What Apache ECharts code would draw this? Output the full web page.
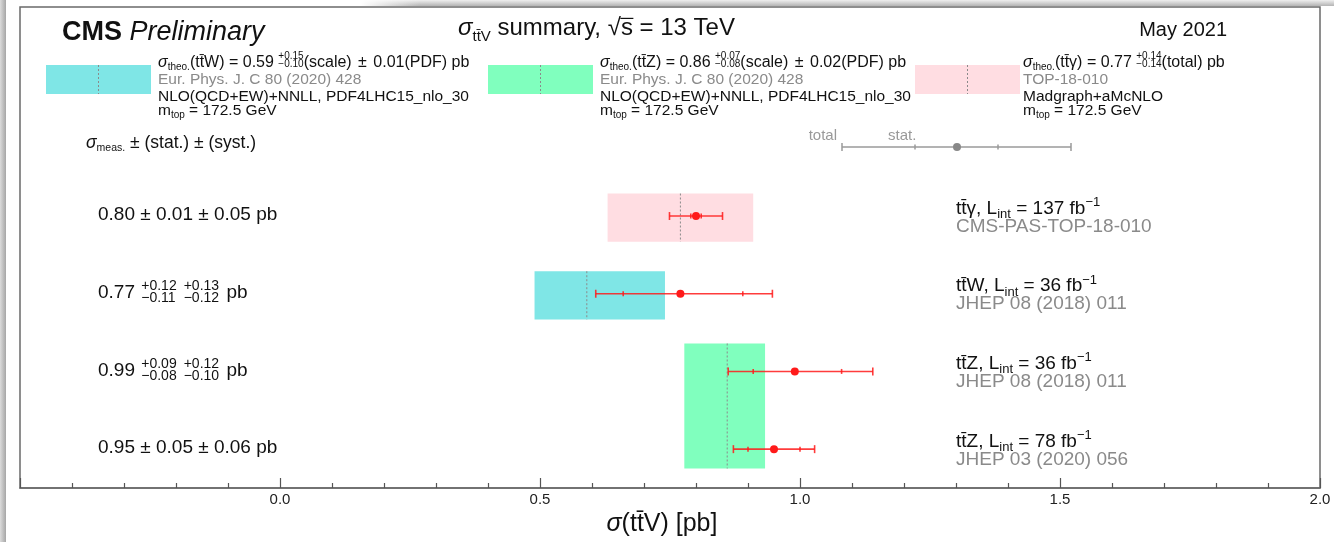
<!DOCTYPE html>
<html>
<head>
<meta charset="utf-8">
<title>σ ttV summary</title>
<script src="https://cdn.jsdelivr.net/npm/echarts@6/dist/echarts.min.js"></script>
<style>
  html, body { margin: 0; padding: 0; background: #ffffff; }
  #chart { width: 1334px; height: 542px; }
</style>
</head>
<body>
<div id="chart"></div>
<script>
// ---- measurements, listed top to bottom ----
const processes = ['tt\u0304γ', 'tt\u0304W', 'tt\u0304Z', 'tt\u0304Z'];
const lumiFb = [137, 36, 36, 78];
const references = ['CMS-PAS-TOP-18-010', 'JHEP 08 (2018) 011', 'JHEP 08 (2018) 011', 'JHEP 03 (2020) 056'];
const measured = [0.80, 0.77, 0.99, 0.95];
const statUp = [0.01, 0.12, 0.09, 0.05];
const statDown = [0.01, 0.11, 0.08, 0.05];
const systUp = [0.05, 0.13, 0.12, 0.06];
const systDown = [0.05, 0.12, 0.10, 0.06];

// ---- theory predictions ----
const theoryProcess = ['tt\u0304W', 'tt\u0304Z', 'tt\u0304γ'];
const theoryCentral = [0.59, 0.86, 0.77];
const theoryUp = [0.15, 0.07, 0.14];
const theoryDown = [0.10, 0.08, 0.14];
const theoryPdf = [0.01, 0.02, null];
const theoryUncName = ['scale', 'scale', 'total'];
const theoryRef = ['Eur. Phys. J. C 80 (2020) 428', 'Eur. Phys. J. C 80 (2020) 428', 'TOP-18-010'];
const theoryCalc = ['NLO(QCD+EW)+NNLL, PDF4LHC15_nlo_30', 'NLO(QCD+EW)+NNLL, PDF4LHC15_nlo_30', 'Madgraph+aMcNLO'];
const theoryMtop = [172.5, 172.5, 172.5];
const theoryRows = [[1], [2, 3], [0]];   // measurement rows each band covers

// ---- axis ----
const xMin = -0.5, xMax = 2.0, xStep = 0.5;
const tickLabels = ['0.0', '0.5', '1.0', '1.5', '2.0'];

// ---- styles ----
const FAMILY = '"Liberation Sans", Arial, Helvetica, sans-serif';
const INK = '#111111';
const GREY_TEXT = '#8a8a8a';
const bandColors = ['#7fe6e6', '#80ffbe', '#ffdde2'];
const RED = '#ff1a1a';

const nRows = processes.length;
const rowY = i => nRows - i - 0.5;
const f2 = v => v.toFixed(2);
const minus = v => '\u2212' + f2(v);

// text helpers: runs of text laid out left to right on a common baseline
const mctx = document.createElement('canvas').getContext('2d');
function fontOf(p) { return (p.it ? 'italic ' : '') + (p.b ? 'bold ' : '') + p.s + 'px ' + FAMILY; }
function measure(text, p) { mctx.font = fontOf(p); return mctx.measureText(text).width; }
function textEl(x, base, text, p) {
  return {
    type: 'text', silent: true,
    style: {
      x: x, y: base - 0.35 * p.s, text: text,
      fontSize: p.s, fontFamily: FAMILY,
      fontStyle: p.it ? 'italic' : 'normal', fontWeight: p.b ? 'bold' : 'normal',
      fill: p.c || INK, align: p.align || 'left', verticalAlign: 'middle'
    }
  };
}
function runLine(x, base, runs) {
  const els = [], xs = [];
  let cx = x;
  runs.forEach(r => {
    xs.push(cx);
    if (r.up !== undefined) {
      els.push(textEl(cx, base + r.upDy, r.up, r));
      els.push(textEl(cx, base + r.dnDy, r.dn, r));
      cx += Math.max(measure(r.up, r), measure(r.dn, r)) + (r.gap || 0);
    } else {
      els.push(textEl(cx, base + (r.dy || 0), r.t, r));
      cx += measure(r.t, r) + (r.gap || 0);
    }
  });
  xs.push(cx);
  return { els, xs };
}

// ---- header ----
const header = [];
header.push(...runLine(62, 42, [{ t: 'CMS ', s: 27, b: true }, { t: 'Preliminary', s: 27, it: true }]).els);
const title = runLine(458, 37, [
  { t: 'σ', s: 24, it: true }, { t: 'tt\u0304V', s: 15, dy: 5 },
  { t: ' summary, √', s: 24 }, { t: 's', s: 24 }, { t: ' = 13 TeV', s: 24 }
]);
header.push(...title.els);
header.push({ type: 'line', silent: true,
  shape: { x1: title.xs[3] - 0.5, y1: 37 - 18.6, x2: title.xs[4] + 0.5, y2: 37 - 18.6 },
  style: { stroke: INK, lineWidth: 1.2 } });
header.push(textEl(1227, 37, 'May 2021', { s: 20, align: 'right' }));

// theory key: swatch + four text lines per prediction
const keySwatchX = [46, 488, 915];
const keyTextX = [158, 600, 1023];
theoryCentral.forEach((c, k) => {
  const sx = keySwatchX[k];
  header.push({ type: 'rect', silent: true, shape: { x: sx, y: 65, width: 105, height: 29 }, style: { fill: bandColors[k] } });
  header.push({ type: 'line', silent: true, shape: { x1: sx + 52.5, y1: 65, x2: sx + 52.5, y2: 94 },
    style: { stroke: '#8a8a8a', lineWidth: 1, lineDash: [2, 2] } });
  const tx = keyTextX[k];
  const line1 = [
    { t: 'σ', s: 16, it: true }, { t: 'theo.', s: 10, dy: 3 },
    { t: '(' + theoryProcess[k] + ') = ' + f2(c) + ' ', s: 16 },
    { up: '+' + f2(theoryUp[k]), dn: minus(theoryDown[k]), s: 10, upDy: -8, dnDy: 0 }
  ];
  if (theoryPdf[k] !== null) {
    line1.push({ t: '(' + theoryUncName[k] + ') ', s: 16, gap: 2 }, { t: '± ', s: 16, gap: 2 },
      { t: f2(theoryPdf[k]) + '(PDF) pb', s: 16 });
  } else {
    line1.push({ t: '(' + theoryUncName[k] + ') pb', s: 16 });
  }
  header.push(...runLine(tx, 68, line1).els);
  header.push(textEl(tx, 85, theoryRef[k], { s: 15.5, c: GREY_TEXT }));
  header.push(textEl(tx, 102, theoryCalc[k], { s: 15.5 }));
  header.push(...runLine(tx, 116, [
    { t: 'm', s: 15.5 }, { t: 'top', s: 10, dy: 3 }, { t: ' = ' + theoryMtop[k].toFixed(1) + ' GeV', s: 15.5 }
  ]).els);
});

// measurement key
header.push(...runLine(86, 149, [
  { t: 'σ', s: 17.5, it: true }, { t: 'meas.', s: 10.5, dy: 3 }, { t: ' ± (stat.) ± (syst.)', s: 17.5 }
]).els);
header.push(textEl(837, 141, 'total', { s: 15, c: '#999999', align: 'right' }));
header.push(textEl(888, 141, 'stat.', { s: 15, c: '#999999' }));
const keyLine = { stroke: '#9a9a9a', lineWidth: 1.5 };
header.push({ type: 'line', silent: true, shape: { x1: 842, y1: 147, x2: 1071, y2: 147 }, style: keyLine });
[842, 1071].forEach(x => header.push({ type: 'line', silent: true, shape: { x1: x, y1: 143, x2: x, y2: 151 }, style: keyLine }));
[915, 998].forEach(x => header.push({ type: 'line', silent: true, shape: { x1: x, y1: 144.5, x2: x, y2: 149.5 }, style: keyLine }));
header.push({ type: 'circle', silent: true, shape: { cx: 957, cy: 147, r: 4 }, style: { fill: '#888888' } });

// window edge shading
header.push({ type: 'rect', silent: true, z: -1, shape: { x: 0, y: 0, width: 6, height: 542 },
  style: { fill: new echarts.graphic.LinearGradient(0, 0, 1, 0, [{ offset: 0, color: '#dcdcdc' }, { offset: 1, color: '#a6a6a6' }]) } });
header.push({ type: 'rect', silent: true, z: -1, shape: { x: 360, y: 0, width: 974, height: 6 },
  style: { fill: new echarts.graphic.LinearGradient(0, 0, 0, 1, [{ offset: 0, color: '#efefef' }, { offset: 1, color: '#b4b4b4' }]) } });
header.push({ type: 'rect', silent: true, z: -1, shape: { x: 360, y: 0, width: 60, height: 6 },
  style: { fill: new echarts.graphic.LinearGradient(0, 0, 1, 0, [{ offset: 0, color: 'rgba(255,255,255,1)' }, { offset: 1, color: 'rgba(255,255,255,0)' }]) } });

// ---- series data ----
// band height: a single row gets a fixed half-height, a band shared by rows spans them all
const bandData = theoryCentral.map((c, k) => {
  const lo = c - Math.hypot(theoryDown[k], theoryPdf[k] || 0);
  const hi = c + Math.hypot(theoryUp[k], theoryPdf[k] || 0);
  const ys = theoryRows[k].map(rowY);
  const extra = ys.length - 1;
  return [lo, hi, c, Math.max(...ys) + 0.29 + 0.07 * extra, Math.min(...ys) - 0.33 + 0.08 * extra, k];
});
const errData = measured.map((m, i) => [
  m,
  m - Math.hypot(statDown[i], systDown[i]), m + Math.hypot(statUp[i], systUp[i]),
  m - statDown[i], m + statUp[i], rowY(i)
]);
const pointData = measured.map((m, i) => [m, rowY(i)]);
const labelData = measured.map((m, i) => [m, rowY(i), i]);

function leftLabelRuns(i) {
  const sym = statUp[i] === statDown[i] && systUp[i] === systDown[i];
  if (sym) return [{ t: f2(measured[i]) + ' ± ' + f2(statUp[i]) + ' ± ' + f2(systUp[i]) + ' pb', s: 19 }];
  return [
    { t: f2(measured[i]) + ' ', s: 19, gap: 1 },
    { up: '+' + f2(statUp[i]), dn: minus(statDown[i]), s: 14, upDy: -8, dnDy: 4, gap: 7 },
    { up: '+' + f2(systUp[i]), dn: minus(systDown[i]), s: 14, upDy: -8, dnDy: 4, gap: 2 },
    { t: ' pb', s: 19 }
  ];
}

const chart = echarts.init(document.getElementById('chart'), null, { renderer: 'canvas' });
chart.setOption({
  animation: false,
  backgroundColor: '#ffffff',
  grid: { left: 20, right: 14, top: 7, bottom: 54, show: true, borderColor: '#6a6a6a', borderWidth: 1.5, backgroundColor: 'transparent' },
  xAxis: {
    type: 'value', min: xMin, max: xMax, interval: xStep,
    axisLine: { show: true, lineStyle: { color: '#6a6a6a', width: 1.5 } },
    axisTick: { show: true, inside: true, length: 10, lineStyle: { color: '#555555', width: 1.2 } },
    minorTick: { show: true, splitNumber: 5, length: 5, lineStyle: { color: '#555555', width: 1.2 } },
    splitLine: { show: false },
    axisLabel: {
      margin: 4, fontSize: 15, fontFamily: FAMILY, color: '#222222',
      formatter: v => { const k = Math.round(v / xStep); return k >= 0 ? tickLabels[k] : ''; }
    },
    name: '{s|σ}(tt\u0304V) [pb]', nameLocation: 'middle', nameGap: 20,
    nameTextStyle: { fontSize: 25, fontFamily: FAMILY, color: INK, padding: [0, 16, 0, 0],
      rich: { s: { fontSize: 25, fontFamily: FAMILY, fontStyle: 'italic', color: INK } } }
  },
  yAxis: { type: 'value', min: 0, max: 6.19, show: false },
  graphic: { elements: header },
  series: [
    {
      type: 'custom', name: 'theory', z: 1, silent: true,
      encode: { x: [0, 1, 2], y: [3, 4] },
      data: bandData,
      renderItem: (params, api) => {
        const p1 = api.coord([api.value(0), api.value(3)]);
        const p2 = api.coord([api.value(1), api.value(4)]);
        const cx = api.coord([api.value(2), 0])[0];
        const k = api.value(5);
        return { type: 'group', children: [
          { type: 'rect', shape: { x: p1[0], y: p1[1], width: p2[0] - p1[0], height: p2[1] - p1[1] }, style: { fill: bandColors[k] } },
          { type: 'line', shape: { x1: cx, y1: p1[1], x2: cx, y2: p2[1] }, style: { stroke: '#8a8a8a', lineWidth: 1, lineDash: [2, 2] } }
        ] };
      }
    },
    {
      type: 'custom', name: 'uncertainty', z: 3, silent: true,
      encode: { x: [0, 1, 2, 3, 4], y: 5 },
      data: errData,
      renderItem: (params, api) => {
        const y = api.coord([0, api.value(5)])[1];
        const X = d => api.coord([api.value(d), 0])[0];
        const st = { stroke: RED, lineWidth: 1.6, opacity: 0.85 };
        const v = (x, h) => ({ type: 'line', shape: { x1: x, y1: y - h, x2: x, y2: y + h }, style: st });
        return { type: 'group', children: [
          { type: 'line', shape: { x1: X(1), y1: y, x2: X(2), y2: y }, style: st },
          v(X(1), 4), v(X(2), 4), v(X(3), 2.5), v(X(4), 2.5)
        ] };
      }
    },
    {
      type: 'scatter', name: 'measured', z: 4, silent: true,
      symbol: 'circle', symbolSize: 8, itemStyle: { color: RED, opacity: 1 },
      data: pointData
    },
    {
      type: 'custom', name: 'labels', z: 5, silent: true,
      encode: { x: 0, y: 1 },
      data: labelData,
      renderItem: (params, api) => {
        const i = api.value(2);
        const y = api.coord([0, api.value(1)])[1];
        const cs = params.coordSys;
        const left = runLine(cs.x + 78, y + 5.5, leftLabelRuns(i)).els;
        const rx = cs.x + cs.width - 364;
        const right = runLine(rx, y - 1, [
          { t: processes[i] + ', L', s: 19 }, { t: 'int', s: 13, dy: 4 },
          { t: ' = ' + lumiFb[i] + ' fb', s: 19 }, { t: '\u22121', s: 13, dy: -8 }
        ]).els;
        right.push(textEl(rx, y + 17, references[i], { s: 19, c: GREY_TEXT }));
        return { type: 'group', children: left.concat(right) };
      }
    }
  ]
});
</script>
</body>
</html>
